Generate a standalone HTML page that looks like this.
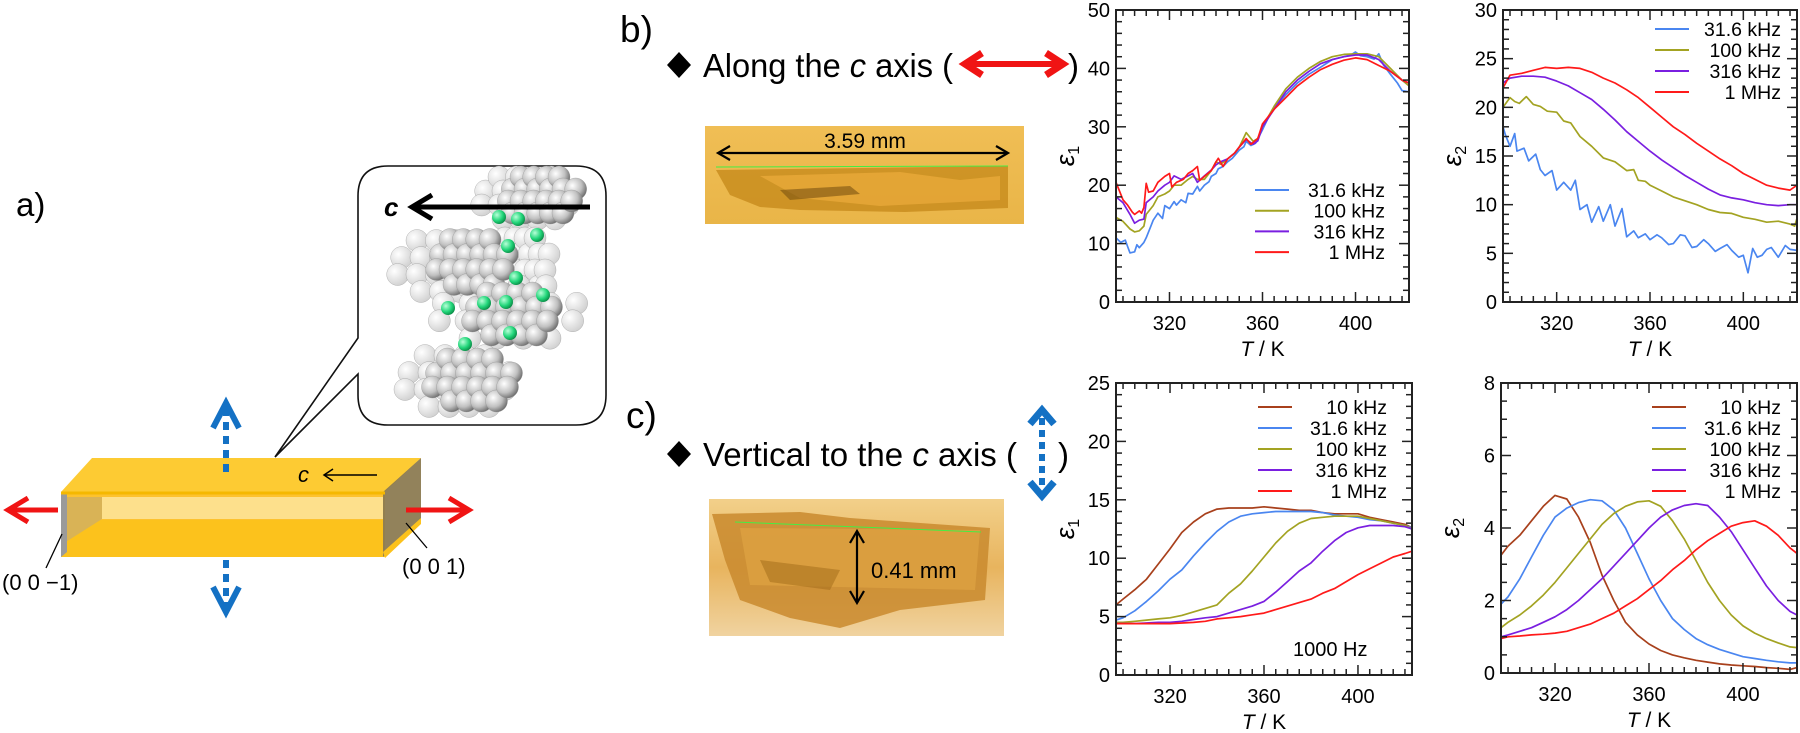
<!DOCTYPE html>
<html><head><meta charset="utf-8">
<style>
html,body{margin:0;padding:0;background:#fff;}
body{width:1800px;height:733px;overflow:hidden;position:relative;font-family:"Liberation Sans",sans-serif;}
svg{position:absolute;left:0;top:0;}
text{font-family:"Liberation Sans",sans-serif;}
</style></head>
<body>
<svg id="fig" width="1800" height="733" viewBox="0 0 1800 733">
<defs>
<radialGradient id="ball" cx="0.35" cy="0.35" r="0.7"><stop offset="0" stop-color="#ffffff"/><stop offset="0.6" stop-color="#c0c0c0"/><stop offset="1" stop-color="#6d6d6d"/></radialGradient>
<radialGradient id="ballL" cx="0.35" cy="0.35" r="0.7"><stop offset="0" stop-color="#ffffff"/><stop offset="1" stop-color="#d0d0d0"/></radialGradient>
<radialGradient id="gball" cx="0.35" cy="0.35" r="0.7"><stop offset="0" stop-color="#b8ffd8"/><stop offset="0.6" stop-color="#22d67a"/><stop offset="1" stop-color="#0a8a45"/></radialGradient>
<linearGradient id="photo1" x1="0" y1="0" x2="0" y2="1"><stop offset="0" stop-color="#f0be55"/><stop offset="1" stop-color="#e9b548"/></linearGradient>
<linearGradient id="photo2" x1="0" y1="0" x2="0" y2="1"><stop offset="0" stop-color="#f2d08a"/><stop offset="0.5" stop-color="#e8b45e"/><stop offset="1" stop-color="#f0d3a0"/></linearGradient>
</defs>

<!-- Panel a -->
<text x="16" y="216" font-size="33">a)</text>
<g>
  <path d="M388,166 H576 Q606,166 606,196 V395 Q606,425 576,425 H388 Q358,425 358,395 V374 L275,457 L358,338 V196 Q358,166 388,166 Z" fill="#fff" stroke="#111" stroke-width="1.6"/>
  <g id="mol"></g>
  <line x1="590" y1="207" x2="414" y2="207" stroke="#000" stroke-width="5"/>
  <polyline points="432,195 412,207 432,219" fill="none" stroke="#000" stroke-width="5" stroke-linejoin="miter"/>
  <text x="384" y="216" font-size="26" font-weight="bold" font-style="italic">c</text>
</g>
<g>
  <polygon points="92,458 421,458 385,492 61,492" fill="#fdcb33"/>
  <polygon points="61,492 385,492 385,557 61,557" fill="#fcc21c"/>
  <polygon points="61,494 383,494 383,520 61,520" fill="#fdc22e"/>
  <polygon points="102,497 383,497 383,519 102,519" fill="#fde08c"/>
  <polygon points="61,497 102,497 102,519 61,545" fill="#d9b356"/>
  <polygon points="61,494 67,494 67,552 61,557" fill="#9a9a9a"/>
  <polygon points="383,492 421,458 421,522 383,557" fill="#8c7b52" opacity="0.95"/>
  <polygon points="383,552 421,518 421,524 385,558" fill="#fcc21c"/>
  <line x1="61" y1="493" x2="385" y2="493" stroke="#f5b800" stroke-width="3"/>
  <text x="298" y="482" font-size="22" font-style="italic">c</text>
  <line x1="377" y1="475" x2="325" y2="475" stroke="#000" stroke-width="1.5"/>
  <polyline points="333,469 324,475 333,481" fill="none" stroke="#000" stroke-width="1.5"/>
  <line x1="58" y1="510" x2="12" y2="510" stroke="#f01414" stroke-width="5"/>
  <polyline points="28,498 8,510 28,522" fill="none" stroke="#f01414" stroke-width="5"/>
  <line x1="406" y1="510" x2="465" y2="510" stroke="#f01414" stroke-width="5"/>
  <polyline points="449,498 469,510 449,522" fill="none" stroke="#f01414" stroke-width="5"/>
  <line x1="226" y1="408" x2="226" y2="473" stroke="#1471c4" stroke-width="6" stroke-dasharray="8,6"/>
  <polyline points="213,428 226,403 239,428" fill="none" stroke="#1471c4" stroke-width="6"/>
  <line x1="226" y1="560" x2="226" y2="606" stroke="#1471c4" stroke-width="6" stroke-dasharray="8,6"/>
  <polyline points="213,587 226,612 239,587" fill="none" stroke="#1471c4" stroke-width="6"/>
  <line x1="62" y1="534" x2="46" y2="568" stroke="#000" stroke-width="1.3"/>
  <line x1="406" y1="523" x2="427" y2="548" stroke="#000" stroke-width="1.3"/>
  <text x="2" y="590" font-size="22">(0 0 −1)</text>
  <text x="402" y="574" font-size="22">(0 0 1)</text>
</g>

<!-- Panel b -->
<text x="620" y="42" font-size="37">b)</text>
<polygon points="679,52 691,65 679,78 667,65" fill="#000"/>
<text x="703" y="77" font-size="33" textLength="250" lengthAdjust="spacingAndGlyphs">Along the <tspan font-style="italic">c</tspan> axis (</text>
<g>
  <line x1="970" y1="64" x2="1058" y2="64" stroke="#f01414" stroke-width="6"/>
  <polyline points="982,53 965,64 982,75" fill="none" stroke="#f01414" stroke-width="7"/>
  <polyline points="1046,53 1063,64 1046,75" fill="none" stroke="#f01414" stroke-width="7"/>
</g>
<text x="1068" y="77" font-size="33">)</text>
<g>
  <rect x="705" y="126" width="319" height="98" fill="url(#photo1)"/>
  <polygon points="716,170 1008,166 1008,208 905,212 800,210 760,207 730,195" fill="#c98d1e" opacity="0.85"/>
  <polygon points="760,176 900,172 960,180 1000,176 1000,200 880,206 800,198" fill="#e8a93a" opacity="0.8"/>
  <polygon points="780,190 850,186 860,194 790,200" fill="#7a5210" opacity="0.6"/>
  <line x1="716" y1="167" x2="1008" y2="166" stroke="#44ee44" stroke-width="1"/>
  <line x1="720" y1="153" x2="1006" y2="153" stroke="#000" stroke-width="2.2"/>
  <polyline points="730,146 718,153 730,160" fill="none" stroke="#000" stroke-width="2.2"/>
  <polyline points="996,146 1008,153 996,160" fill="none" stroke="#000" stroke-width="2.2"/>
  <text x="865" y="148" font-size="21" text-anchor="middle">3.59 mm</text>
</g>

<!-- Panel c -->
<text x="626" y="428" font-size="37">c)</text>
<polygon points="679,441 691,454 679,467 667,454" fill="#000"/>
<text x="703" y="466" font-size="33" textLength="314" lengthAdjust="spacingAndGlyphs">Vertical to the <tspan font-style="italic">c</tspan> axis (</text>
<g>
  <line x1="1042" y1="418" x2="1042" y2="488" stroke="#1471c4" stroke-width="6" stroke-dasharray="7,5"/>
  <polyline points="1030,424 1042,410 1054,424" fill="none" stroke="#1471c4" stroke-width="7"/>
  <polyline points="1030,482 1042,496 1054,482" fill="none" stroke="#1471c4" stroke-width="7"/>
</g>
<text x="1058" y="466" font-size="33">)</text>
<g>
  <rect x="709" y="499" width="295" height="137" fill="url(#photo2)"/>
  <polygon points="712,514 800,512 850,518 990,528 985,600 900,610 840,628 790,618 740,600 725,560" fill="#c98a2e" opacity="0.85"/>
  <polygon points="740,528 980,530 975,590 750,585" fill="#dca040" opacity="0.9"/>
  <polygon points="760,560 840,570 830,590 770,582" fill="#a06a18" opacity="0.5"/>
  <line x1="735" y1="522" x2="981" y2="532" stroke="#44ee44" stroke-width="1"/>
  <line x1="857" y1="533" x2="857" y2="601" stroke="#000" stroke-width="2.2"/>
  <polyline points="850,543 857,531 864,543" fill="none" stroke="#000" stroke-width="2.2"/>
  <polyline points="850,591 857,603 864,591" fill="none" stroke="#000" stroke-width="2.2"/>
  <text x="871" y="578" font-size="22">0.41 mm</text>
</g>

<g id="charts"></g>
</svg>

<script>
// ---------- Data ----------
// Top-left: eps1 along c
const tlCats = ["31.6 kHz","100 kHz","316 kHz","1 MHz"];
const tlBlueT = [297,299,301,302,303,305,306,307,309,310,312,313,315,317,318,320,322,323,325,327,328,330,332,333,335,337,338,340,341,343,345,347,350,352,353,355,357,360,363,366,370,375,380,385,390,395,398,400,402,405,408,410,412,415,418,420,423];
const tlBlueV = [11,10.2,10.6,9.5,8.4,8.6,9.8,9.3,10.2,11,13,14,15.2,14.3,16.5,16,17.2,16.6,17.5,17,18.6,18.5,19.8,19,20,20.6,21.5,22,22.8,23.2,24,24.6,26,26.6,27.5,26.8,27.2,29.5,32,33.6,35.5,37.5,39,40.2,41.5,42,42.3,42.8,42.2,42,41.6,42.5,40.6,39,37.5,36.2,36];
const tlGreenT = [297,300,303,305,307,309,310,313,315,318,320,322,325,328,330,332,335,338,340,342,345,348,350,353,356,358,360,365,370,375,380,385,390,395,400,405,410,415,420,423];
const tlGreenV = [14.5,13.8,12.5,12,12.2,13,15,16.5,18,18.5,19,20,20,21,21.5,21,21,22.5,24,23.6,24.5,25.5,26.5,29,27.5,28,30,33.5,36.5,38.5,40,41.2,42,42.4,42.5,42.5,42,40,38,37];
const tlPurpleT = [297,300,303,305,307,309,310,313,315,318,320,322,325,328,330,332,335,338,340,342,345,348,350,353,356,358,360,365,370,375,380,385,390,395,400,405,410,415,420,423];
const tlPurpleV = [18,17,15,13.5,14,14.2,17,18,19,20,20.5,21.6,21,21.6,22,20.5,21.6,22.6,23.5,24,24.5,25.5,26.5,27.8,27,27.6,30,33,36,38,39.5,40.8,41.5,42,42.3,42.3,41.5,39.5,38,37.5];
const tlRedT = [297,300,302,304,305,307,308,309,310,311,313,315,318,320,321,323,326,328,330,332,333,335,338,340,341,343,345,348,350,353,355,358,360,365,370,375,380,385,390,395,400,405,410,415,420,423];
const tlRedV = [20.5,17.5,16.6,15.4,15,15.6,15.2,16.2,20.3,18.8,19,20.5,21.5,22,19.7,20.5,21,22,22.5,23.2,20.8,21.5,22.5,24,24.6,23.2,24.5,25.5,26.5,28,27,28,30.5,33,35,37,38.5,39.8,40.7,41.4,41.8,41.5,40.5,39.5,38,37.5];

// Top-right: eps2 along c
const trRedT = [297,300,305,310,315,320,325,330,335,340,345,350,355,360,365,370,375,380,385,390,395,400,405,410,415,420,423];
const trRedV = [22,23.3,23.5,23.8,24.1,24,24.1,24,23.6,23,22.5,21.8,21,20,19,18,17.2,16.3,15.5,14.7,14,13.2,12.6,12,11.7,11.5,12];
const trPurpleT = [297,300,305,310,315,320,325,330,335,340,345,350,355,360,365,370,375,380,385,390,395,400,405,410,415,420,423];
const trPurpleV = [22.5,23,23.2,23.2,23.1,22.7,22.2,21.5,20.8,19.8,18.7,17.5,16.5,15.5,14.6,13.8,13,12.3,11.6,11,10.7,10.5,10.2,10,9.9,10,10];
const trGreenT = [297,300,302,304,307,310,313,316,320,323,326,330,335,340,345,350,353,355,358,360,365,370,375,380,385,390,395,400,405,410,415,420,422,423];
const trGreenV = [20,21,20.6,20.4,21.1,20.3,20.1,19.6,19.5,18.6,18.4,17,16,14.8,14.4,13.5,13.6,12.5,12.4,12,11.4,10.8,10.4,10,9.5,9.2,9.1,8.7,8.5,8.2,8.3,8,7.8,8.6];
const trBlueT = [297,298,300,302,303,306,308,311,313,315,318,320,323,326,328,330,333,335,338,340,343,345,348,350,353,355,358,360,363,365,368,370,373,375,378,380,383,385,388,390,393,395,398,400,402,404,406,408,410,412,415,418,420,423];
const trBlueV = [18,17.2,16,17.3,15.5,15.8,14.5,15.2,13.6,13,13.5,11.5,12.3,11.5,12.5,9.5,10,8.2,9.8,8.3,10,7.8,9.6,6.7,7.3,6.6,7,6.4,6.9,6.6,5.9,6,6.9,6.8,5.6,5.7,6.4,6,5.2,5.5,5.9,5.3,4.6,4.8,3,5.5,4.6,4.8,5.4,5.6,4.6,5.8,5.4,5.3];

// Bottom-left: eps1 vertical
const blCats = ["10 kHz","31.6 kHz","100 kHz","316 kHz","1 MHz"];
const blT = [297,300,305,310,315,320,325,330,335,340,345,350,355,360,365,370,375,380,385,390,395,400,405,410,415,420,423];
const blBrown = [6.0,6.5,7.3,8.2,9.5,10.8,12.2,13.1,13.8,14.2,14.3,14.3,14.3,14.4,14.3,14.2,14.1,14.1,13.9,13.8,13.8,13.8,13.5,13.3,13.1,12.9,12.6];
const blBlue = [4.7,4.9,5.5,6.3,7.2,8.2,9.0,10.2,11.3,12.3,13.1,13.6,13.8,13.9,14.0,14.0,14.0,14.0,13.9,13.7,13.6,13.5,13.3,13.2,13.0,12.8,12.6];
const blGreen = [4.5,4.5,4.6,4.7,4.8,4.9,5.1,5.4,5.7,6.0,7.0,7.8,8.9,10.1,11.3,12.3,13.0,13.4,13.5,13.6,13.6,13.6,13.4,13.2,13.0,12.8,12.5];
const blPurple = [4.4,4.4,4.4,4.45,4.5,4.5,4.6,4.75,4.9,5.0,5.3,5.6,5.9,6.3,7.1,8.0,8.9,9.6,10.6,11.5,12.2,12.6,12.8,12.8,12.8,12.7,12.5];
const blRed = [4.4,4.4,4.4,4.4,4.4,4.4,4.45,4.5,4.6,4.8,4.9,5.0,5.15,5.3,5.6,5.9,6.2,6.5,7.0,7.4,8.0,8.6,9.1,9.6,10.1,10.4,10.6];

// Bottom-right: eps2 vertical
const brT = [297,300,305,310,315,320,325,330,335,340,345,350,355,360,365,370,375,380,385,390,395,400,405,410,415,420,423];
const brBrown = [3.25,3.5,3.8,4.2,4.6,4.9,4.8,4.3,3.6,2.7,2.0,1.4,1.05,0.8,0.62,0.5,0.42,0.35,0.3,0.25,0.22,0.2,0.18,0.15,0.13,0.1,0.15];
const brBlue = [1.9,2.1,2.6,3.2,3.8,4.3,4.55,4.7,4.78,4.75,4.5,4.0,3.3,2.6,2.0,1.5,1.2,0.95,0.78,0.65,0.55,0.45,0.4,0.35,0.31,0.28,0.28];
const brGreen = [1.25,1.4,1.6,1.85,2.15,2.5,2.9,3.3,3.7,4.1,4.4,4.6,4.72,4.75,4.6,4.2,3.7,3.1,2.5,2.0,1.6,1.3,1.1,0.95,0.83,0.72,0.7];
const brPurple = [1.0,1.05,1.15,1.25,1.4,1.55,1.75,2.0,2.3,2.6,2.95,3.3,3.65,4.0,4.3,4.5,4.62,4.67,4.62,4.3,3.9,3.4,2.9,2.4,2.0,1.7,1.6];
const brRed = [0.95,1.0,1.02,1.05,1.07,1.1,1.15,1.25,1.35,1.5,1.65,1.85,2.05,2.3,2.55,2.85,3.1,3.4,3.65,3.85,4.05,4.15,4.2,4.05,3.8,3.45,3.3];

const xTicks = [320,360,400];
const tlYTicks = [0,10,20,30,40,50];
const trYTicks = [0,5,10,15,20,25,30];
const blYTicks = [0,5,10,15,20,25];
const brYTicks = [0,2,4,6,8];

const C = {blue:"#4a86f0", green:"#a3a322", purple:"#7a1fe0", red:"#ff1a1a", brown:"#a8401c"};
const NS = "http://www.w3.org/2000/svg";
const root = document.getElementById('charts');

function mk(tag, attrs, parent){
  const e = document.createElementNS(NS, tag);
  for (const k in attrs) e.setAttribute(k, attrs[k]);
  (parent||root).appendChild(e);
  return e;
}

function chart(opt){
  const g = mk('g', {});
  
  
  const xmin = 297, xmax = 423;
  const sx = v => opt.x0 + (v - xmin) / (xmax - xmin) * (opt.x1 - opt.x0);
  const sy = v => opt.y1 - (v - opt.ymin) / (opt.ymax - opt.ymin) * (opt.y1 - opt.y0);
  opt.series.forEach(s => {
    const d = s.t.map((t,i) => (i ? 'L' : 'M') + sx(t).toFixed(1) + ',' + sy(s.v[i]).toFixed(1)).join('');
    const p = mk('path', {d:d, fill:'none', stroke:s.color, 'stroke-width':1.7, 'stroke-linejoin':'round'}, g);
    
    
  });
  const fr = mk('rect', {x:opt.x0, y:opt.y0, width:opt.x1-opt.x0, height:opt.y1-opt.y0, fill:'none', stroke:'#222', 'stroke-width':2}, g);
  
  
  for (let t = 300; t <= 420; t += 5) {
    const major = xTicks.includes(t);
    const len = major ? 10 : 6;
    mk('line', {x1:sx(t), x2:sx(t), y1:opt.y1, y2:opt.y1-len, stroke:'#222', 'stroke-width':1.5}, g);
    mk('line', {x1:sx(t), x2:sx(t), y1:opt.y0, y2:opt.y0+len, stroke:'#222', 'stroke-width':1.5}, g);
  }
  xTicks.forEach(t => {
    const tx = mk('text', {x:sx(t), y:opt.y1+28, 'font-size':20, 'text-anchor':'middle'}, g);
    tx.textContent = t;
    
    
  });
  const ticks = opt.yTicks;
  for (let v = opt.ymin; v <= opt.ymax + 1e-9; v += opt.yMinor) {
    const major = ticks.some(t => Math.abs(t - v) < 1e-6);
    const len = major ? 10 : 6;
    mk('line', {x1:opt.x0, x2:opt.x0+len, y1:sy(v), y2:sy(v), stroke:'#222', 'stroke-width':1.5}, g);
    mk('line', {x1:opt.x1, x2:opt.x1-len, y1:sy(v), y2:sy(v), stroke:'#222', 'stroke-width':1.5}, g);
  }
  ticks.forEach(v => {
    const tx = mk('text', {x:opt.x0-6, y:sy(v)+7, 'font-size':20, 'text-anchor':'end'}, g);
    tx.textContent = v;
    
    
  });
  const xt = mk('text', {x:(opt.x0+opt.x1)/2, y:opt.y1+54, 'font-size':21, 'text-anchor':'middle'}, g);
  xt.innerHTML = '<tspan font-style="italic">T</tspan> / K';
  
  
  const yt = mk('text', {x:0, y:0, 'font-size':26, 'font-style':'italic', 'font-family':'"Liberation Serif",serif', transform:'translate(' + (opt.x0-42) + ',' + ((opt.y0+opt.y1)/2) + ') rotate(-90)', 'text-anchor':'middle'}, g);
  yt.innerHTML = 'ε<tspan font-size="16" dy="5" font-style="normal">' + opt.sub + '</tspan>';
  
  
  opt.series.forEach((s,i) => {
    const y = opt.legY + i * opt.legDy;
    const ln = mk('line', {x1:opt.legX, x2:opt.legX+34, y1:y, y2:y, stroke:s.color, 'stroke-width':2}, g);
    
    
    const tx = mk('text', {x:opt.legTx, y:y+7, 'font-size':19.5, 'text-anchor':'end'}, g);
    tx.textContent = s.label;
    
    
  });
  return {g, sx, sy};
}

chart({name:'chart-eps1-along-c', x0:1116, x1:1409, y0:10, y1:302, ymin:0, ymax:50, yTicks:tlYTicks, yMinor:2, sub:'1',
  legX:1255, legTx:1385, legY:190, legDy:20.7,
  series:[
    {key:'31-6khz', label:tlCats[0], color:C.blue, t:tlBlueT, v:tlBlueV},
    {key:'100khz', label:tlCats[1], color:C.green, t:tlGreenT, v:tlGreenV},
    {key:'316khz', label:tlCats[2], color:C.purple, t:tlPurpleT, v:tlPurpleV},
    {key:'1mhz', label:tlCats[3], color:C.red, t:tlRedT, v:tlRedV}]});

chart({name:'chart-eps2-along-c', x0:1503, x1:1797, y0:10, y1:302, ymin:0, ymax:30, yTicks:trYTicks, yMinor:1, sub:'2',
  legX:1655, legTx:1781, legY:29, legDy:21,
  series:[
    {key:'31-6khz', label:tlCats[0], color:C.blue, t:trBlueT, v:trBlueV},
    {key:'100khz', label:tlCats[1], color:C.green, t:trGreenT, v:trGreenV},
    {key:'316khz', label:tlCats[2], color:C.purple, t:trPurpleT, v:trPurpleV},
    {key:'1mhz', label:tlCats[3], color:C.red, t:trRedT, v:trRedV}]});

const bl = chart({name:'chart-eps1-vertical-c', x0:1116, x1:1412, y0:383, y1:675, ymin:0, ymax:25, yTicks:blYTicks, yMinor:1, sub:'1',
  legX:1258, legTx:1387, legY:407, legDy:21,
  series:[
    {key:'10khz', label:blCats[0], color:C.brown, t:blT, v:blBrown},
    {key:'31-6khz', label:blCats[1], color:C.blue, t:blT, v:blBlue},
    {key:'100khz', label:blCats[2], color:C.green, t:blT, v:blGreen},
    {key:'316khz', label:blCats[3], color:C.purple, t:blT, v:blPurple},
    {key:'1mhz', label:blCats[4], color:C.red, t:blT, v:blRed}]});
const note = mk('text', {x:1293, y:656, 'font-size':20}, bl.g);
note.textContent = '1000 Hz';



chart({name:'chart-eps2-vertical-c', x0:1501, x1:1797, y0:383, y1:673, ymin:0, ymax:8, yTicks:brYTicks, yMinor:0.5, sub:'2',
  legX:1652, legTx:1781, legY:407, legDy:21,
  series:[
    {key:'10khz', label:blCats[0], color:C.brown, t:brT, v:brBrown},
    {key:'31-6khz', label:blCats[1], color:C.blue, t:brT, v:brBlue},
    {key:'100khz', label:blCats[2], color:C.green, t:brT, v:brGreen},
    {key:'316khz', label:blCats[3], color:C.purple, t:brT, v:brPurple},
    {key:'1mhz', label:blCats[4], color:C.red, t:brT, v:brRed}]});

// ---------- molecule decoration ----------
const mol = document.getElementById('mol');
const clusters = [[525,198,52,28,'ballL'],[446,266,58,34,'ballL'],[520,262,30,32,'ballL'],[506,312,80,35,'ballL'],[455,381,60,34,'ballL'],
                  [540,195,38,24,'ball'],[470,262,40,30,'ball'],[510,314,45,28,'ball'],[470,380,45,28,'ball']];
clusters.forEach(c => {
  for (let a = 0; a < 6; a++) for (let b = 0; b < 4; b++) {
    const x = c[0] - c[2] + (a + 0.5) * (2*c[2]/6) + (b%2)*4;
    const y = c[1] - c[3] + (b + 0.5) * (2*c[3]/4);
    const dx = (x - c[0]) / c[2], dy = (y - c[1]) / c[3];
    if (dx*dx + dy*dy > 1.1) continue;
    mk('circle', {cx:x, cy:y, r:11, fill:'url(#' + c[4] + ')', stroke:'#888', 'stroke-width':0.3}, mol);
  }
});
[[499,217],[518,219],[537,235],[508,246],[516,278],[484,303],[506,302],[543,295],[510,333],[448,308],[465,344]].forEach(p => {
  mk('circle', {cx:p[0], cy:p[1], r:7, fill:'url(#gball)'}, mol);
});
</script>
</body></html>
